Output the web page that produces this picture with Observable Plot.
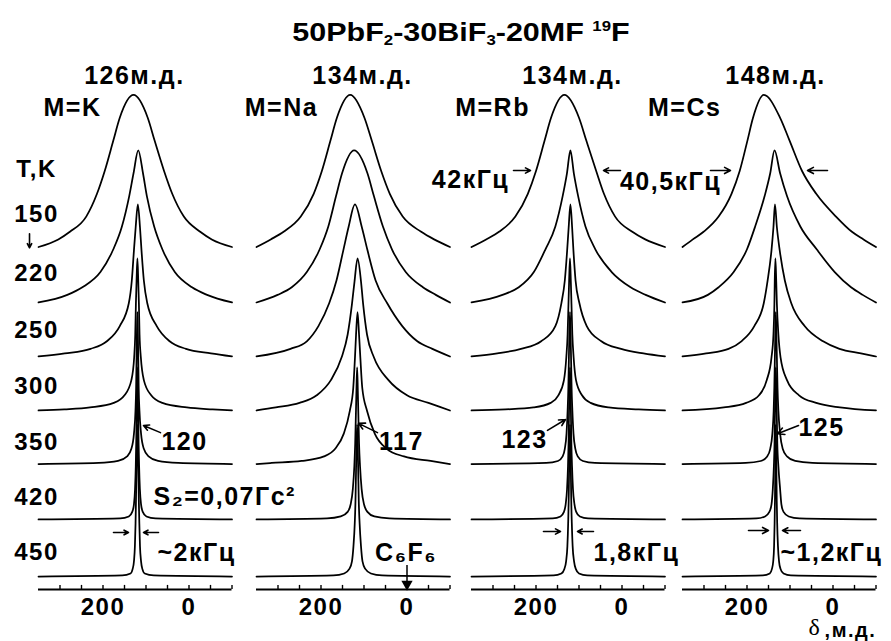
<!DOCTYPE html>
<html><head><meta charset="utf-8">
<script src="https://cdn.jsdelivr.net/npm/d3@7"></script>
<script src="https://cdn.jsdelivr.net/npm/@observablehq/plot@0.6"></script>
<style>
body{margin:0;background:#fff;}
#chart{position:relative;width:891px;height:641px;overflow:hidden;background:#fff;font-family:"Liberation Sans",Arial,sans-serif;font-weight:bold;color:#000;}
#chart svg{position:absolute;left:0;top:0;}
#chart svg text{letter-spacing:1.5px;}
#title{position:absolute;left:0;width:922px;top:20px;text-align:center;font-size:25px;line-height:1;white-space:nowrap;transform:scaleX(1.22);transform-origin:461px 0;}
#title sub{font-size:0.55em;vertical-align:-0.3em;line-height:0;}
#title sup{font-size:0.55em;vertical-align:0.75em;line-height:0;}
</style></head>
<body>
<div id="chart"><div id="title">50PbF<sub>2</sub>-30BiF<sub>3</sub>-20MF <sup>19</sup>F</div></div>
<script>
// ---------------- data ----------------
const temps = [150, 220, 250, 300, 350, 420, 450];           // T, K (top to bottom)
const metals = ["K", "Na", "Rb", "Cs"];
const shiftLabels = ["126м.д.", "134м.д.", "134м.д.", "148м.д."];
const narrowLabels = ["120", "117", "123", "125"];
const widthLabels = ["~2кГц", "", "1,8кГц", "~1,2кГц"];
// intensity levels (fraction of peak height) at which crossings were read
const levels = [0.007, 0.02, 0.05, 0.1, 0.2, 0.35, 0.5, 0.7, 0.85];
// peak position (ppm) of every spectrum, and distance (ppm) from the peak
// to the curve at each level, on the high-ppm (left) and low-ppm (right) side;
// null = the curve has already reached the panel edge above that level
const kCenter = [129, 118, 119, 120, 120, 120, 120];
const kLeft = [
  [null,null,175,148,110,85,67,47,32],
  [null,null,165,130,88,58,38,21,11],
  [null,170,110,72,42,21,14,9,5],
  [170,110,55,30,14,7.5,5,3.5,2],
  [90,45,24,14,8,4.5,3,2,1.2],
  [40,20,12,8,5.5,3.8,2.8,1.8,1.1],
  [35,16,11,8,5.8,4.3,3.3,2.2,1.3]
];
const kRight = [
  [null,null,182,155,117,90,71,49,33],
  [null,null,160,125,85,56,37,20,11],
  [null,170,112,74,44,22,14,8.5,5],
  [175,115,58,32,15,8,5,3.5,2],
  [95,48,26,15,8.5,4.8,3,2,1.2],
  [42,21,12.5,8.5,5.8,4,2.8,1.8,1.1],
  [38,17,11.5,8.5,6,4.5,3.3,2.2,1.3]
];
const naCenter = [132, 123, 121, 115, 115, 116, 116];
const naLeft = [
  [null,null,185,155,115,85,66,46,31],
  [null,null,178,145,110,80,60,42,28],
  [null,null,150,112,85,60,43,27,15],
  [null,190,135,95,62,37,23,13,7],
  [200,130,78,52,32,18,10,6,3.5],
  [70,38,22,15,10,6.5,4.5,2.8,1.6],
  [55,30,18,12,8.5,5.5,3.8,2.5,1.5]
];
const naRight = [
  [null,null,195,165,122,92,72,50,33],
  [null,null,190,160,120,88,67,46,31],
  [null,null,180,145,110,75,48,29,16],
  [null,null,165,115,72,38,22,13,8],
  [null,170,108,68,40,22,11,6.5,3.5],
  [75,40,24,16,10.5,6.8,4.5,2.8,1.6],
  [58,32,19,12.5,9,5.8,3.8,2.5,1.5]
];
const rbCenter = [134, 120, 120, 121, 121, 121, 121];
const rbLeft = [
  [null,null,182,152,114,85,66,46,31],
  [null,null,158,120,85,58,35,18,8],
  [null,170,115,68,35,21,13,7.5,4],
  [150,85,45,27,14,8.5,5.5,3.5,2],
  [55,28,17,12,8,5.5,3.8,2.5,1.5],
  [40,22,14,10,6.8,4.6,3.3,2.2,1.3],
  [38,20,13,9,6,4.2,3,2,1.2]
];
const rbRight = [
  [null,null,188,158,118,92,74,51,34],
  [null,null,175,140,96,58,35,18,8],
  [null,170,118,72,38,21,12,7,4],
  [160,90,48,28,14,8.5,5.5,3.5,2],
  [58,30,18,12.5,8.2,5.6,3.8,2.5,1.5],
  [42,23,14.5,10.5,7,4.8,3.3,2.2,1.3],
  [40,21,13.5,9.5,6.2,4.3,3,2,1.2]
];
const csCenter = [161, 136, 135, 134, 133, 133, 133];
const csLeft = [
  [null,null,165,140,105,75,56,38,25],
  [null,null,155,130,95,64,45,23,10],
  [null,160,108,78,48,26,17,8,3.5],
  [null,120,68,38,20,9,4.5,2.3,1.5],
  [70,35,20,13,8,5,3.5,2.2,1.3],
  [45,25,15,10,7,4.5,3,2,1.2],
  [30,14,9,6,4,2.8,2,1.3,0.8]
];
const csRight = [
  [null,null,232,205,168,122,89,60,38],
  [null,null,205,178,140,98,60,29,13],
  [null,200,150,112,69,38,23,11,4.5],
  [null,150,95,55,27,12,7,3.5,2],
  [85,45,26,16,10,6,4,2.5,1.4],
  [55,30,18,13,10,6,3.5,2.2,1.3],
  [35,18,11,7.5,5,3.2,2.2,1.4,0.8]
];
const majorTicks = [200, 0];
const minorTicks = [300, 250, 200, 150, 100, 50, 0, -50, -100];

// ---------------- layout ----------------
const W = 891, H = 641, AXIS_PX = 589, UNIT = 54.5;
const PANEL_LEFT = [38, 256, 471, 682], PANEL_W = 193.5;
const Y_MIN = (576 - AXIS_PX) / UNIT, Y_MAX = 576 / UNIT;
const rowBase = [6.046, 5.028, 4.037, 3.046, 2.064, 1.046, 0];
const AMP = 152 / UNIT;
const tLabelY = [6.64, 5.56, 4.51, 3.49, 2.46, 1.45, 0.44];
const FONT = "Liberation Sans";
const FS = 25;

const panels = [
  {center: kCenter, left: kLeft, right: kRight},
  {center: naCenter, left: naLeft, right: naRight},
  {center: rbCenter, left: rbLeft, right: rbRight},
  {center: csCenter, left: csLeft, right: csRight}
];
// annotation positions (ppm, stacked-row units) per panel
const labelPos = [
  {m: [271, 8.59], s: [127, 9.19], n: [10.5, 2.46], w: [73.3, 0.44]},
  {m: [292, 8.59], s: [103.5, 9.19], n: [12.8, 2.46], w: null},
  {m: [301, 8.59], s: [115, 9.19], n: [226.7, 2.50], w: [66.3, 0.44]},
  {m: [345, 8.59], s: [133.7, 9.19], n: [26.7, 2.73], w: [122.1, 0.44]}
];
const arrowPos = [
  [ {x1:370.9,y1:6.29,x2:370.9,y2:6.03},
    {x1:66.3,y1:2.64,x2:105.8,y2:2.77},
    {x1:175.6,y1:0.807,x2:140.7,y2:0.807},
    {x1:70.9,y1:0.807,x2:105.8,y2:0.807} ],
  [ {x1:68.6,y1:2.64,x2:112.8,y2:2.81} ],
  [ {x1:252.3,y1:7.45,x2:212.8,y2:7.45},
    {x1:3.5,y1:7.45,x2:43.0,y2:7.45},
    {x1:173.3,y1:2.68,x2:131.4,y2:2.88},
    {x1:182.6,y1:0.826,x2:143,y2:0.826},
    {x1:66.3,y1:0.826,x2:103.5,y2:0.826} ],
  [ {x1:284.9,y1:7.45,x2:238.4,y2:7.45},
    {x1:12.8,y1:7.45,x2:59.3,y2:7.45},
    {x1:80.2,y1:2.77,x2:129.1,y2:2.62},
    {x1:196.5,y1:0.844,x2:150,y2:0.844},
    {x1:75.6,y1:0.844,x2:117.4,y2:0.844} ]
];
const extraText = [
  [ {t:"S₂=0,07Гс²", x:82.6, y:1.45, a:"start", fs:25} ],
  [ {t:"C₆F₆", x:2, y:0.44, a:"middle", fs:25} ],
  [ {t:"42кГц", x:352.3, y:7.27, a:"middle", fs:25}, {t:"40,5кГц", x:-112.8, y:7.23, a:"middle", fs:25} ],
  [ {t:",м.д.", x:19.5, y:-1.0, a:"start", fs:20} ]
];

function spectrum(c, left, right, k) {
  const pts = [[-100, 0]];
  for (let j = 0; j < levels.length; j++) if (right[j] != null) pts.push([Math.max(-99, c - right[j]), levels[j]]);
  pts.push([c, 1]);
  for (let j = levels.length - 1; j >= 0; j--) if (left[j] != null) pts.push([Math.min(349, c + left[j]), levels[j]]);
  pts.push([350, 0]);
  return pts.map(([d, v]) => ({temp: temps[k], row: k, delta: d, intensity: v}));
}

const chart = document.getElementById("chart");
panels.forEach((p, i) => {
  const data = temps.flatMap((t, k) => spectrum(p.center[k], p.left[k], p.right[k], k));
  const L = PANEL_LEFT[i];
  const lp = labelPos[i];
  const texts = [
    {t: "M=" + metals[i], x: lp.m[0], y: lp.m[1], a: "middle", fs: FS},
    {t: shiftLabels[i], x: lp.s[0], y: lp.s[1], a: "middle", fs: FS},
    {t: narrowLabels[i], x: lp.n[0], y: lp.n[1], a: "middle", fs: FS}
  ];
  if (lp.w) texts.push({t: widthLabels[i], x: lp.w[0], y: lp.w[1], a: "start", fs: FS});
  texts.push(...extraText[i]);
  const textOpts = {x: "x", y: "y", text: "t", fontSize: "fs", fontWeight: "bold", fontFamily: FONT, fill: "#000"};
  const marks = [
    Plot.ruleX(minorTicks, {x: d => d, y1: () => Y_MIN, y2: () => Y_MIN + 0.075, strokeWidth: 1.4, stroke: "#000"}),
    Plot.ruleY([Y_MIN], {strokeWidth: 2, stroke: "#000"}),
    Plot.axisX({ticks: majorTicks, tickSize: 0, tickPadding: 8, fontSize: 24, fontWeight: "bold", fontFamily: FONT, label: null, fill: "#000"}),
    Plot.line(data, {x: "delta", y: d => rowBase[d.row] + d.intensity * AMP, z: "temp",
      curve: "monotone-x", stroke: "#000", strokeWidth: 1.75}),
    Plot.text(texts.filter(d => d.a === "middle"), {...textOpts, textAnchor: "middle"}),
    Plot.text(texts.filter(d => d.a === "start"), {...textOpts, textAnchor: "start"}),
    Plot.arrow(arrowPos[i], {x1: "x1", y1: "y1", x2: "x2", y2: "y2", headLength: 7, headAngle: 55,
      strokeWidth: 1.6, stroke: "#000"})
  ];
  if (i === 0) {
    marks.push(Plot.text(["T,K", ...temps.map(String)], {
      x: () => 354.7, y: (d, j) => j === 0 ? 7.47 : tLabelY[j - 1], text: d => d,
      fontSize: 24, fontWeight: "bold", fontFamily: FONT, fill: "#000"}));
  }
  if (i === 1) {
    marks.push(Plot.ruleX([0], {y1: () => 0.2, y2: () => -0.1, strokeWidth: 1.5, stroke: "#000"}));
    marks.push(Plot.dot([0], {x: d => d, y: () => -0.14, symbol: "triangle", rotate: 180, r: 4.2, fill: "#000", stroke: "none"}));
  }
  if (i === 3) {
    marks.push(Plot.text(["δ"], {x: () => 57, y: () => -0.94, text: d => d, textAnchor: "start",
      fontSize: 24, fontWeight: "normal", fontFamily: "Liberation Serif", fill: "#000"}));
  }
  const svg = Plot.plot({
    width: W, height: H,
    marginLeft: L, marginRight: W - L - PANEL_W, marginTop: 0, marginBottom: H - AXIS_PX,
    x: {domain: [350, -100], label: null},
    y: {domain: [Y_MIN, Y_MAX], axis: null, label: null},
    style: {background: "transparent", overflow: "visible", fontFamily: FONT, fontWeight: "bold", color: "#000"},
    marks
  });
  chart.appendChild(svg);
});
</script>
</body></html>
